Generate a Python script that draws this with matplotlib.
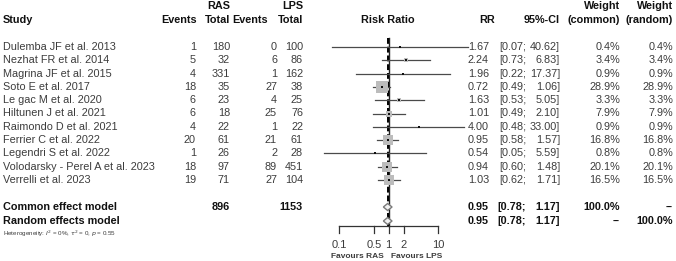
import matplotlib
matplotlib.use("Agg")
import matplotlib.pyplot as plt
import numpy as np

plt.rcParams['font.family'] = ['Liberation Sans', 'DejaVu Sans']

# data
studies = ["Dulemba JF et al. 2013", "Nezhat FR et al. 2014", "Magrina JF et al. 2015",
           "Soto E et al. 2017", "Le gac M et al. 2020", "Hiltunen J et al. 2021",
           "Raimondo D et al. 2021", "Ferrier C et al. 2022", "Legendri S et al. 2022",
           "Volodarsky - Perel A et al. 2023", "Verrelli et al. 2023"]
ras_events = [1, 5, 4, 18, 6, 6, 4, 20, 1, 18, 19]
ras_total = [180, 32, 331, 35, 23, 18, 22, 61, 26, 97, 71]
lps_events = [0, 6, 1, 27, 4, 25, 1, 21, 2, 89, 27]
lps_total = [100, 86, 162, 38, 25, 76, 22, 61, 28, 451, 104]
rr = [1.67, 2.24, 1.96, 0.72, 1.63, 1.01, 4.00, 0.95, 0.54, 0.94, 1.03]
ci_lo = [0.07, 0.73, 0.22, 0.49, 0.53, 0.49, 0.48, 0.58, 0.05, 0.60, 0.62]
ci_hi = [40.62, 6.83, 17.37, 1.06, 5.05, 2.10, 33.00, 1.57, 5.59, 1.48, 1.71]
w_common = [0.4, 3.4, 0.9, 28.9, 3.3, 7.9, 0.9, 16.8, 0.8, 20.1, 16.5]
w_random = [0.4, 3.4, 0.9, 28.9, 3.3, 7.9, 0.9, 16.8, 0.8, 20.1, 16.5]
sum_rr, sum_lo, sum_hi = 0.95, 0.78, 1.17
ticks = [0.1, 0.5, 1, 2, 10]

W, H = 676, 261
fig = plt.figure(figsize=(W / 100, H / 100), dpi=100)

# text layer in pixel coordinates
ax = fig.add_axes([0, 0, 1, 1])
ax.set_xlim(0, W)
ax.set_ylim(H, 0)
ax.axis('off')

# forest panel: log x, same pixel rows
px0, px1 = 320, 472
dec = 49.5          # pixels per decade
x_one = 388.7       # pixel of RR = 1
fx = fig.add_axes([px0 / W, 0, (px1 - px0) / W, 1])
fx.set_xscale('log')
fx.set_xlim(10 ** ((px0 - x_one) / dec), 10 ** ((px1 - x_one) / dec))
fx.set_ylim(H, 0)
fx.axis('off')

txt = '#3c3c3c'
fs = 7.8

def t(x, y, s, ha='right', bold=False, size=fs, color=None):
    ax.text(x, y, s, ha=ha, va='center', fontsize=size,
            fontweight='bold' if bold else 'normal',
            color=color or ('#111111' if bold else txt))

# headers
t(230, 6, "RAS", bold=True)
t(303, 6, "LPS", bold=True)
t(3, 20, "Study", ha='left', bold=True)
t(197, 20, "Events", bold=True)
t(230, 20, "Total", bold=True)
t(268, 20, "Events", bold=True)
t(303, 20, "Total", bold=True)
t(388, 20, "Risk Ratio", ha='center', bold=True)
t(495, 20, "RR", bold=True)
t(560, 20, "95%-CI", bold=True)
t(620, 6, "Weight", bold=True)
t(620, 20, "(common)", bold=True)
t(673, 6, "Weight", bold=True)
t(673, 20, "(random)", bold=True)

y0, dy = 47, 13.3
rows = [y0 + dy * i for i in range(len(studies))]
wmax = max(w_common)

for i, y in enumerate(rows):
    t(3, y, studies[i], ha='left')
    t(196, y, str(ras_events[i]))
    t(230, y, str(ras_total[i]))
    t(277, y, str(lps_events[i]))
    t(303, y, str(lps_total[i]))
    t(489, y, f"{rr[i]:.2f}")
    t(526, y, f"[{ci_lo[i]:.2f};")
    t(560, y, f"{ci_hi[i]:.2f}]")
    t(620, y, f"{w_common[i]:.1f}%")
    t(673, y, f"{w_random[i]:.1f}%")

    fx.plot([ci_lo[i], ci_hi[i]], [y, y], color='#4a4a4a', lw=0.9, zorder=2)
    fx.scatter([rr[i]], [y], marker='s', s=85 * w_common[i] / wmax,
               color='#bcbcbc', lw=0, zorder=3)
    fx.scatter([rr[i]], [y], marker='s', s=4, color='#111111', lw=0, zorder=4)

y_com, y_ran = 207, 221
t(3, y_com, "Common effect model", ha='left', bold=True)
t(3, y_ran, "Random effects model", ha='left', bold=True)
t(230, y_com, str(sum(ras_total)), bold=True)
t(303, y_com, str(sum(lps_total)), bold=True)
for y in (y_com, y_ran):
    t(489, y, f"{sum_rr:.2f}", bold=True)
    t(526, y, f"[{sum_lo:.2f};", bold=True)
    t(560, y, f"{sum_hi:.2f}]", bold=True)
t(620, y_com, "100.0%", bold=True)
t(673, y_com, "--", bold=True)
t(620, y_ran, "--", bold=True)
t(673, y_ran, "100.0%", bold=True)
ax.text(3, 234, r"Heterogeneity: $I^2$ = 0%, $\tau^2$ = 0, $p$ = 0.55",
        ha='left', va='center', fontsize=4.5, color=txt)

# summary diamonds
for y in (y_com, y_ran):
    fx.fill([sum_lo, sum_rr, sum_hi, sum_rr], [y, y - 3.5, y, y + 3.5],
            facecolor='#f2f2f2', edgecolor='#7a7a7a', lw=1.0, zorder=3)

# null line and summary lines
fx.plot([1, 1], [38, 226], color='#222222', lw=1.0, zorder=1)
fx.plot([sum_rr, sum_rr], [38, 226], color='black', lw=1.4,
        ls=(0, (3, 1.5)), zorder=1)

# axis
fx.plot([ticks[0], ticks[-1]], [226, 226], color='#333333', lw=0.9)
for tk in ticks:
    fx.plot([tk, tk], [226, 233], color='#333333', lw=0.9)
    fx.text(tk, 245, f"{tk:g}", ha='center', va='center', fontsize=8, color=txt)
ax.text(357, 256, "Favours RAS", ha='center', va='center', fontsize=6,
        fontweight='bold', color=txt)
ax.text(417, 256, "Favours LPS", ha='center', va='center', fontsize=6,
        fontweight='bold', color=txt)

fig.savefig("out.png", dpi=100)
